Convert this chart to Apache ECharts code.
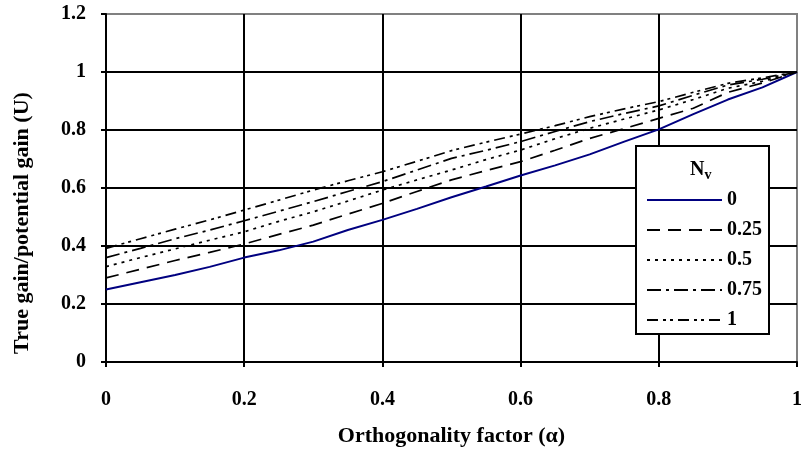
<!DOCTYPE html>
<html><head><meta charset="utf-8">
<script src="https://cdn.jsdelivr.net/npm/echarts@6/dist/echarts.min.js"></script>
<style>html,body{margin:0;padding:0;background:#fff}#c{width:805px;height:453px}</style>
</head><body><div id="c"></div>
<script>
const alpha = [0,0.05,0.1,0.15,0.2,0.25,0.3,0.35,0.4,0.45,0.5,0.55,0.6,0.65,0.7,0.75,0.8,0.85,0.9,0.95,1];
const nv0   = [0.25,0.275,0.30,0.328,0.36,0.385,0.415,0.455,0.49,0.528,0.568,0.605,0.643,0.678,0.716,0.76,0.802,0.855,0.905,0.947,1.0];
const nv025 = [0.29,0.32,0.35,0.378,0.407,0.44,0.472,0.51,0.547,0.588,0.628,0.66,0.691,0.73,0.771,0.805,0.84,0.875,0.93,0.962,1.0];
const nv05  = [0.329,0.36,0.39,0.42,0.449,0.485,0.518,0.555,0.593,0.628,0.662,0.698,0.731,0.77,0.806,0.838,0.869,0.905,0.944,0.968,1.0];
const nv075 = [0.36,0.392,0.425,0.455,0.487,0.52,0.553,0.588,0.622,0.662,0.702,0.73,0.76,0.795,0.829,0.857,0.883,0.92,0.955,0.975,1.0];
const nv1   = [0.392,0.425,0.458,0.49,0.524,0.558,0.593,0.625,0.656,0.692,0.729,0.758,0.786,0.815,0.846,0.873,0.898,0.93,0.961,0.98,1.0];
const seriesNames = ['0','0.25','0.5','0.75','1'];
const xTicks = [0,0.2,0.4,0.6,0.8,1];
const yTicks = [0,0.2,0.4,0.6,0.8,1,1.2];

const font = '"Liberation Serif","Times New Roman",serif';
const styles = [
  {color:'#000080', width:2, type:'solid'},
  {color:'#000', width:1.7, type:[13,8]},
  {color:'#000', width:1.7, type:[3,5]},
  {color:'#000', width:1.7, type:[14,5,3,5]},
  {color:'#000', width:1.7, type:[11,5,3,4,3,5]}
];
const allData = [nv0,nv025,nv05,nv075,nv1];
const chart = echarts.init(document.getElementById('c'));
chart.setOption({
  animation:false,
  backgroundColor:'#fff',
  grid:{left:106,right:5,top:14,bottom:91,show:true,borderColor:'#808080',borderWidth:2,backgroundColor:'transparent'},
  xAxis:{type:'value',min:0,max:1,interval:0.2,
    name:'Orthogonality factor (\u03b1)',nameLocation:'middle',nameGap:63,
    nameTextStyle:{fontFamily:font,fontWeight:'bold',fontSize:22,color:'#000'},
    axisLine:{show:true,lineStyle:{color:'#000',width:2}},
    axisTick:{show:true,length:5,lineStyle:{color:'#000',width:2}},
    axisLabel:{margin:28,fontFamily:font,fontWeight:'bold',fontSize:20,color:'#000',
      formatter:v=>xTicks.includes(Math.round(v*10)/10)?String(Math.round(v*10)/10):''},
    splitLine:{show:true,showMaxLine:false,lineStyle:{color:'#000',width:2}}},
  yAxis:{type:'value',min:0,max:1.2,interval:0.2,
    name:'True gain/potential gain (U)',nameLocation:'middle',nameGap:73,
    nameTextStyle:{fontFamily:font,fontWeight:'bold',fontSize:22,color:'#000',padding:[0,70,0,0]},
    axisLine:{show:true,lineStyle:{color:'#000',width:2}},
    axisTick:{show:true,length:5,lineStyle:{color:'#000',width:2}},
    axisLabel:{margin:20,fontFamily:font,fontWeight:'bold',fontSize:20,color:'#000',
      formatter:v=>{const r=Math.round(v*10)/10;return yTicks.includes(r)?String(r):'';}},
    splitLine:{show:true,showMaxLine:false,lineStyle:{color:'#000',width:2}}},
  legend:{orient:'vertical',left:636,top:146,
    padding:[44,7,4,10],itemGap:10,itemWidth:75,itemHeight:18,
    borderColor:'#000',borderWidth:2,backgroundColor:'#fff',
    itemStyle:{opacity:0},
    textStyle:{fontFamily:font,fontWeight:'bold',fontSize:20,color:'#000'},
    data:seriesNames},
  graphic:[{type:'text',left:690,top:160,z:100,
    style:{text:'{n|N}{s|v}',rich:{n:{fontFamily:font,fontWeight:'bold',fontSize:20,fill:'#000'},
      s:{fontFamily:font,fontWeight:'bold',fontSize:14,fill:'#000',padding:[10,0,0,0]}}}}],
  series: allData.map((d,i)=>({
    name:seriesNames[i],type:'line',symbol:'none',
    data:alpha.map((a,j)=>[a,d[j]]),
    lineStyle:{color:styles[i].color,width:styles[i].width,type:styles[i].type},
    itemStyle:{color:styles[i].color},
    z:5
  }))
});
</script></body></html>
